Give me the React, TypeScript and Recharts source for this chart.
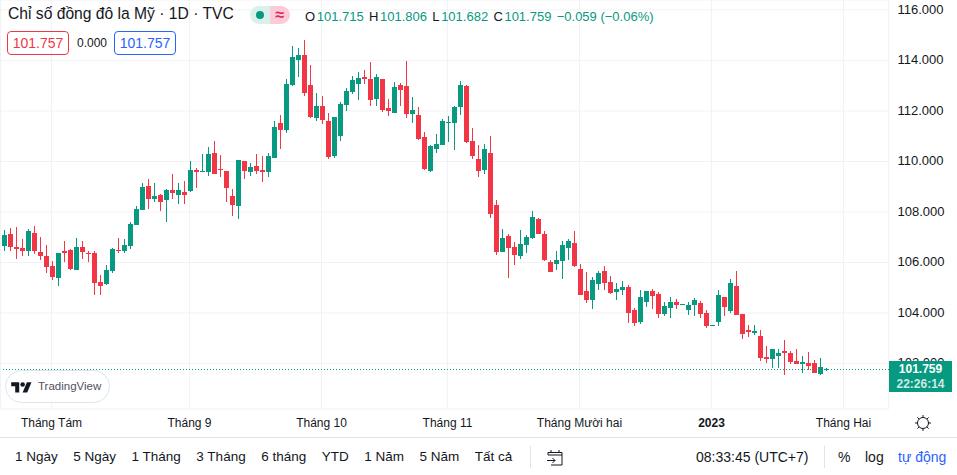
import { Bar, CartesianGrid, ComposedChart, ReferenceLine, XAxis, YAxis } from "recharts";

const opens = [
  106.64, 107.1, 106.59, 106.55, 106.44, 107.14, 106.39, 106.23, 105.84, 105.34, 106.43, 106.47, 105.69, 106.59,
  106.35, 106.35, 105.21, 105.14, 105.65, 106.47, 106.43, 106.64, 107.47, 108.05, 109.0, 108.49, 108.65, 108.45,
  108.84, 108.65, 108.76, 108.8, 109.63, 109.56, 109.56, 110.31, 109.67, 109.59, 108.61, 108.21, 109.99, 109.56,
  109.79, 109.63, 109.56, 110.11, 111.49, 111.22, 113.0, 113.98, 114.18, 113.0, 111.69, 112.17, 111.57, 110.19,
  110.98, 112.2, 112.72, 113.03, 113.31, 113.23, 112.44, 113.23, 112.09, 111.89, 112.99, 112.96, 111.85, 111.81,
  110.94, 109.6, 110.46, 110.62, 111.49, 111.49, 112.12, 112.96, 110.78, 110.07, 109.63, 110.31, 108.25, 106.39,
  107.02, 106.59, 106.23, 106.67, 106.95, 107.7, 107.1, 106.0, 105.92, 106.04, 106.55, 106.75, 105.72, 104.85,
  104.49, 105.13, 105.64, 105.21, 104.81, 104.89, 105.01, 104.1, 103.62, 104.41, 104.85, 104.73, 103.94, 104.18,
  104.41, 104.3, 104.1, 104.3, 104.37, 103.98, 103.46, 103.62, 104.61, 104.06, 105.05, 103.94, 103.31, 103.19,
  103.07, 102.24, 102.16, 102.28, 102.48, 102.4, 102.08, 101.96, 102.0, 102.0, 101.57, 101.715,
];
const highs = [
  107.26, 107.34, 107.38, 106.91, 107.3, 107.42, 106.98, 106.67, 106.04, 106.35, 106.83, 106.51, 106.95, 106.83,
  106.43, 106.43, 105.48, 105.88, 106.55, 106.95, 106.91, 107.58, 108.21, 109.11, 109.28, 109.12, 108.69, 108.88,
  109.48, 109.12, 109.2, 109.99, 109.71, 110.27, 110.54, 110.78, 110.23, 109.59, 108.88, 110.03, 109.99, 109.91,
  110.27, 110.19, 110.31, 111.57, 111.81, 113.23, 114.54, 114.46, 114.77, 113.79, 112.68, 112.56, 111.89, 111.73,
  112.32, 112.88, 113.35, 113.51, 113.59, 113.9, 113.43, 113.23, 112.44, 113.11, 113.07, 113.94, 112.52, 112.12,
  111.14, 110.62, 111.06, 111.65, 111.77, 112.17, 113.15, 112.99, 111.3, 110.62, 110.66, 110.98, 108.45, 107.3,
  107.1, 106.79, 107.26, 107.06, 108.01, 107.74, 107.22, 106.08, 106.43, 106.83, 106.91, 107.22, 105.92, 105.6,
  105.4, 105.64, 105.84, 105.44, 105.17, 105.25, 105.09, 104.18, 104.89, 104.85, 104.93, 104.81, 104.41, 104.61,
  104.53, 104.34, 104.41, 104.57, 104.45, 104.1, 103.5, 104.89, 104.61, 105.32, 105.64, 103.94, 103.5, 103.5,
  103.31, 102.67, 102.56, 102.56, 102.91, 102.48, 102.56, 102.28, 102.44, 102.12, 102.2, 101.806,
];
const lows = [
  106.41, 106.44, 106.13, 106.21, 106.21, 106.29, 106.09, 105.57, 105.26, 105.06, 106.01, 105.69, 105.69, 106.13,
  106.01, 104.67, 104.67, 105.1, 105.57, 106.33, 106.33, 106.52, 107.46, 108.05, 108.09, 108.37, 108.01, 107.58,
  108.49, 108.29, 108.29, 108.76, 108.92, 109.56, 109.4, 109.48, 109.36, 108.37, 107.81, 107.7, 109.28, 109.4,
  109.48, 109.16, 109.36, 110.11, 110.46, 111.1, 112.96, 113.31, 112.56, 111.69, 111.57, 111.45, 110.07, 110.11,
  110.78, 111.97, 112.64, 112.4, 113.03, 112.17, 112.17, 111.93, 111.77, 111.89, 112.17, 111.69, 111.49, 110.82,
  109.63, 109.56, 110.31, 110.62, 110.74, 110.42, 111.81, 110.7, 110.07, 109.36, 109.48, 107.74, 106.27, 106.39,
  105.36, 105.88, 106.12, 106.35, 106.91, 107.1, 106.04, 105.6, 105.68, 105.32, 106.08, 105.8, 104.69, 104.38,
  104.14, 104.89, 104.89, 104.73, 104.49, 104.69, 103.58, 103.47, 103.55, 104.22, 104.14, 103.78, 103.86, 103.78,
  104.14, 104.3, 103.9, 103.86, 103.78, 103.39, 103.46, 103.46, 103.86, 103.98, 103.9, 102.95, 103.03, 103.11,
  102.08, 102.0, 101.8, 101.8, 101.53, 101.96, 101.96, 101.61, 101.73, 101.61, 101.53, 101.682,
];
const closes = [
  107.06, 106.6, 106.51, 106.44, 107.22, 106.44, 106.21, 105.81, 105.38, 106.35, 106.35, 105.73, 106.59, 106.37,
  106.29, 105.18, 105.05, 105.68, 106.51, 106.43, 106.67, 107.5, 108.09, 108.96, 108.49, 108.61, 108.37, 108.84,
  108.73, 108.84, 108.65, 109.63, 109.56, 109.59, 110.27, 109.48, 109.63, 108.92, 108.25, 110.03, 109.59, 109.75,
  109.59, 109.56, 110.19, 111.34, 111.22, 113.03, 114.1, 114.18, 112.68, 111.73, 112.17, 111.61, 110.15, 111.73,
  112.24, 112.76, 113.19, 113.27, 113.23, 112.4, 113.31, 112.01, 111.97, 112.92, 112.8, 111.85, 112.01, 110.86,
  109.67, 110.58, 110.66, 111.57, 111.53, 112.12, 112.99, 110.74, 110.19, 109.6, 110.46, 107.89, 106.39, 106.94,
  106.55, 106.27, 106.71, 106.98, 107.78, 107.1, 106.08, 105.6, 106.08, 106.67, 106.83, 105.84, 104.69, 104.49,
  105.28, 105.56, 105.17, 104.77, 104.93, 105.01, 103.98, 103.58, 104.61, 104.85, 104.65, 103.94, 104.26, 104.41,
  104.3, 104.34, 104.3, 104.49, 103.94, 103.46, 103.5, 104.69, 104.22, 105.17, 103.9, 103.15, 103.23, 103.27,
  102.2, 102.16, 102.56, 102.4, 102.4, 102.04, 101.96, 102.04, 101.88, 101.61, 101.84, 101.759,
];

const FUTURE_BARS = 10;
const priceTicks = [102, 104, 106, 108, 110, 112, 114, 116];
const monthTickBars = [8, 31, 53, 74, 96, 118, 140];
const monthLabels = ["Tháng Tám", "Tháng 9", "Tháng 10", "Tháng 11", "Tháng Mười hai", "2023", "Tháng Hai"];
const rangeButtons = ["1 Ngày", "5 Ngày", "1 Tháng", "3 Tháng", "6 tháng", "YTD", "1 Năm", "5 Năm", "Tất cả"];

const lastClose = 101.759;
const GREEN = "#089981";
const RED = "#f23645";
const FONT = '"Liberation Sans", Arial, sans-serif';

const rows = Array.from({ length: opens.length + FUTURE_BARS }, (_, i) => ({
  bar: i,
  open: opens[i],
  high: highs[i],
  low: lows[i],
  close: closes[i],
}));

// pixels are snapped the way the price pane does it, otherwise wicks go blurry
const snap = (v: number) => Math.round(v - 0.7);

function Candle(props: any) {
  const { x, y, width, height, payload } = props;
  if (payload.open == null) return null;
  const perUnit = height / (payload.high - payload.low);
  const yOf = (p: number) => y + (payload.high - p) * perUnit;
  const color = payload.close >= payload.open ? GREEN : RED;
  const left = Math.round(x);
  const bodyTop = snap(yOf(Math.max(payload.open, payload.close)));
  const bodyBottom = snap(yOf(Math.min(payload.open, payload.close)));
  const wickTop = snap(y);
  const wickBottom = snap(y + height);
  return (
    <g shapeRendering="crispEdges">
      <rect x={left + 2} y={wickTop} width={1} height={Math.max(wickBottom - wickTop, 1)} fill={color} />
      <rect x={left} y={bodyTop} width={width} height={Math.max(bodyBottom - bodyTop, 1)} fill={color} />
    </g>
  );
}

function TimeTick(props: any) {
  const { x, payload } = props;
  const label = monthLabels[monthTickBars.indexOf(payload.value)];
  return (
    <text
      x={x}
      y={427}
      textAnchor="middle"
      fontFamily={FONT}
      fontSize={12}
      fontWeight={label === "2023" ? 700 : 400}
      fill="#131722"
    >
      {label}
    </text>
  );
}

function Legend() {
  const pair = (k: string, v: string) => (
    <span key={k} style={{ marginRight: 5.3 }}>
      <span style={{ color: "#131722", marginRight: 1.6 }}>{k}</span>
      {v}
    </span>
  );
  return (
    <div style={{ position: "absolute", left: 305, top: 9, fontSize: 13, color: GREEN, whiteSpace: "nowrap" }}>
      {pair("O", "101.715")}
      {pair("H", "101.806")}
      {pair("L", "101.682")}
      {pair("C", "101.759")}
      <span>−0.059 (−0.06%)</span>
    </div>
  );
}

function valueBox(left: number, color: string) {
  return (
    <div
      style={{
        position: "absolute",
        left,
        top: 31,
        width: 60,
        height: 22,
        border: `1px solid ${color}`,
        borderRadius: 4,
        color,
        fontSize: 14,
        lineHeight: "22px",
        textAlign: "center",
      }}
    >
      101.757
    </div>
  );
}

export default function App() {
  return (
    <div
      style={{
        position: "absolute",
        left: 0,
        top: 0,
        width: 957,
        height: 475,
        overflow: "hidden",
        background: "#fff",
        fontFamily: FONT,
      }}
    >
      <ComposedChart
        width={957}
        height={437}
        data={rows}
        margin={{ top: 0, right: 0, bottom: 0, left: 0.5 }}
        barCategoryGap={0}
      >
        <CartesianGrid stroke="#f1f2f4" strokeWidth={1} />
        <XAxis
          dataKey="bar"
          type="category"
          ticks={monthTickBars}
          interval={0}
          height={28}
          axisLine={false}
          tickLine={false}
          tick={<TimeTick />}
        />
        <YAxis
          orientation="right"
          width={68.5}
          domain={[100.198, 116.396]}
          ticks={priceTicks}
          tickFormatter={(v: number) => v.toFixed(3)}
          axisLine={false}
          tickLine={false}
          tickMargin={3}
          tick={{ fontSize: 13, fill: "#131722", fontFamily: FONT, dy: -1 }}
          allowDataOverflow
        />
        <ReferenceLine
          y={lastClose}
          stroke={GREEN}
          strokeWidth={1}
          strokeDasharray="1 2"
          strokeDashoffset={0.5}
          shapeRendering="crispEdges"
        />
        <Bar
          dataKey={(d: any) => (d.open == null ? null : [d.low, d.high])}
          barSize={5}
          shape={<Candle />}
          isAnimationActive={false}
        />
      </ComposedChart>

      <div style={{ position: "absolute", left: 8, top: 5, fontSize: 15.65, color: "#131722", whiteSpace: "nowrap" }}>
        Chỉ số đồng đô la Mỹ · 1D · TVC
      </div>
      <div
        style={{
          position: "absolute",
          left: 250,
          top: 6,
          width: 40,
          height: 18,
          borderRadius: 9,
          overflow: "hidden",
          display: "flex",
        }}
      >
        <div style={{ width: 20, background: "#daf0ec", display: "flex", alignItems: "center", justifyContent: "center" }}>
          <div style={{ width: 8, height: 8, borderRadius: 4, background: GREEN }} />
        </div>
        <div
          style={{
            width: 20,
            background: "#fccbd8",
            color: "#e0245e",
            fontSize: 16,
            fontWeight: 700,
            lineHeight: "18px",
            textAlign: "center",
          }}
        >
          ≈
        </div>
      </div>
      <Legend />

      {valueBox(7, RED)}
      <div style={{ position: "absolute", left: 77, top: 36, fontSize: 12, color: "#131722" }}>0.000</div>
      {valueBox(114, "#2962ff")}

      <div
        style={{
          position: "absolute",
          left: 5,
          top: 370,
          width: 103,
          height: 31,
          border: "1px solid #e0e3eb",
          borderRadius: 17,
          background: "#fff",
        }}
      >
        <svg width={21} height={16} viewBox="0 0 36 28" style={{ position: "absolute", left: 5, top: 9 }}>
          <path d="M14 22H7V11H0V4h14v18zM28 22h-8l7.5-18h8L28 22z" fill="#131722" />
          <circle cx={20} cy={8} r={4} fill="#131722" />
        </svg>
        <span style={{ position: "absolute", left: 32, top: 9, fontSize: 11.5, color: "#50535e", whiteSpace: "nowrap" }}>
          TradingView
        </span>
      </div>

      <div
        style={{
          position: "absolute",
          left: 889,
          top: 361,
          width: 63,
          height: 31,
          background: GREEN,
          textAlign: "center",
          fontSize: 12,
          lineHeight: "15px",
          paddingTop: 1,
          boxSizing: "border-box",
        }}
      >
        <div style={{ color: "#fff", fontWeight: 700 }}>101.759</div>
        <div style={{ color: "#cdeae4", fontWeight: 700 }}>22:26:14</div>
      </div>

      <svg width={18} height={18} viewBox="0 0 18 18" style={{ position: "absolute", left: 914, top: 414 }}>
        <circle cx={9} cy={9} r={5.5} fill="none" stroke="#131722" />
        <path d="M9 1v2.5M9 14.5V17M1 9h2.5M14.5 9H17M3.4 3.4l1.7 1.7M12.9 12.9l1.7 1.7M3.4 14.6l1.7-1.7M12.9 5.1l1.7-1.7" stroke="#131722" />
      </svg>

      <div style={{ position: "absolute", left: 0, top: 437, width: 957, height: 1, background: "#e0e3eb" }} />
      <div
        style={{
          position: "absolute",
          left: 15,
          top: 449,
          display: "flex",
          gap: 15.5,
          fontSize: 13.5,
          color: "#131722",
          whiteSpace: "nowrap",
        }}
      >
        {rangeButtons.map((b) => (
          <span key={b}>{b}</span>
        ))}
      </div>
      <div style={{ position: "absolute", left: 530, top: 446, width: 1, height: 22, background: "#e0e3eb" }} />
      <svg width={18} height={18} viewBox="0 0 18 18" style={{ position: "absolute", left: 546, top: 449 }}>
        <path
          d="M5 1v3M13 1v3M2 6V3.5h14V16H5M2 6h14M1 11.5h8M6.5 9l2.5 2.5L6.5 14"
          fill="none"
          stroke="#131722"
        />
      </svg>
      <div style={{ position: "absolute", left: 696, top: 449, fontSize: 14, color: "#131722", whiteSpace: "nowrap" }}>
        08:33:45 (UTC+7)
      </div>
      <div style={{ position: "absolute", left: 824, top: 446, width: 1, height: 22, background: "#e0e3eb" }} />
      <div style={{ position: "absolute", left: 838, top: 449, fontSize: 14, color: "#131722" }}>%</div>
      <div style={{ position: "absolute", left: 865, top: 449, fontSize: 14, color: "#131722" }}>log</div>
      <div style={{ position: "absolute", left: 898, top: 449, fontSize: 14, color: "#2962ff", whiteSpace: "nowrap" }}>
        tự động
      </div>
    </div>
  );
}
